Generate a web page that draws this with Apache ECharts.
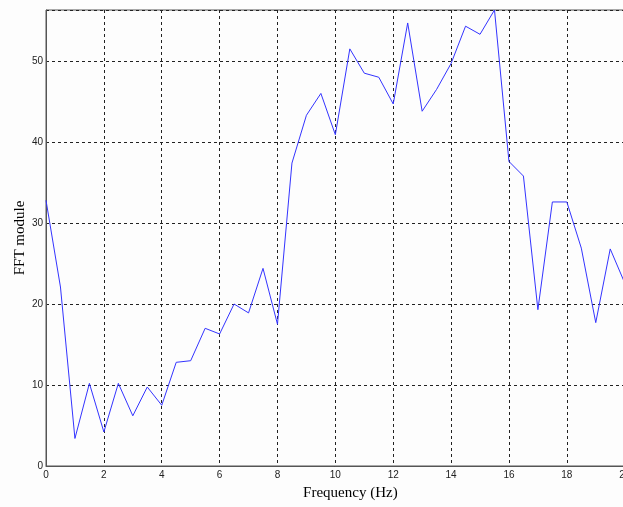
<!DOCTYPE html>
<html>
<head>
<meta charset="utf-8">
<script src="https://cdn.jsdelivr.net/npm/echarts@6/dist/echarts.min.js"></script>
<style>
  html, body { margin: 0; padding: 0; background: #fdfdfd; }
  #chart { width: 623px; height: 507px; }
</style>
</head>
<body>
<div id="chart"></div>
<script>
// Frequency bins (Hz), 0.5 Hz spacing
const frequency = [0, 0.5, 1, 1.5, 2, 2.5, 3, 3.5, 4, 4.5, 5, 5.5, 6, 6.5, 7, 7.5, 8, 8.5, 9, 9.5,
                   10, 10.5, 11, 11.5, 12, 12.5, 13, 13.5, 14, 14.5, 15, 15.5, 16, 16.5, 17, 17.5, 18, 18.5, 19, 19.5, 20];
// FFT magnitude at each bin
const fftModule = [32.8, 22.1, 3.4, 10.2, 4.2, 10.2, 6.2, 9.75, 7.5, 12.8, 13.0, 17.0, 16.3, 20.0, 18.9, 24.4, 17.5, 37.4, 43.3, 46.0,
                   40.9, 51.5, 48.5, 48.0, 44.7, 54.7, 43.8, 46.5, 49.7, 54.3, 53.3, 56.3, 37.6, 35.8, 19.3, 32.6, 32.6, 26.9, 17.7, 26.8, 22.6];

const points = frequency.map((f, i) => [f, fftModule[i]]);

const chart = echarts.init(document.getElementById('chart'), null, { renderer: 'canvas' });

const gridLine = { show: true, lineStyle: { color: '#222', width: 1, type: [3, 3] } };
const tickFont = { fontFamily: 'Liberation Sans, Arial, sans-serif', fontSize: 10, color: '#222' };

chart.setOption({
  backgroundColor: '#fdfdfd',
  animation: false,
  grid: {
    left: 46, top: 10, width: 578.7, height: 456,
    outerBoundsMode: 'none', containLabel: false,
    show: true, borderColor: '#555', borderWidth: 1, backgroundColor: 'transparent'
  },
  xAxis: {
    type: 'value', min: 0, max: 20, interval: 2,
    name: 'Frequency (Hz)', nameLocation: 'middle', nameGap: 20, nameMoveOverlap: false,
    nameTextStyle: { fontFamily: 'Liberation Serif, Times New Roman, serif', fontSize: 15, color: '#000', padding: [0, 0, 0, 30] },
    axisLine: { show: true, lineStyle: { color: '#555' } },
    axisTick: { show: false },
    axisLabel: Object.assign({ margin: 4 }, tickFont),
    splitLine: gridLine
  },
  yAxis: {
    type: 'value', min: 0, max: 56.3, interval: 10,
    name: 'FFT module', nameLocation: 'middle', nameGap: 18, nameMoveOverlap: false,
    nameTextStyle: { fontFamily: 'Liberation Serif, Times New Roman, serif', fontSize: 15, color: '#000' },
    axisLine: { show: true, lineStyle: { color: '#555' } },
    axisTick: { show: false },
    axisLabel: Object.assign({ margin: 3, showMaxLabel: false }, tickFont),
    splitLine: gridLine
  },
  series: [{
    type: 'line',
    data: points,
    showSymbol: false,
    lineStyle: { color: '#3333ff', width: 1 },
    clip: true
  }]
});
</script>
</body>
</html>
